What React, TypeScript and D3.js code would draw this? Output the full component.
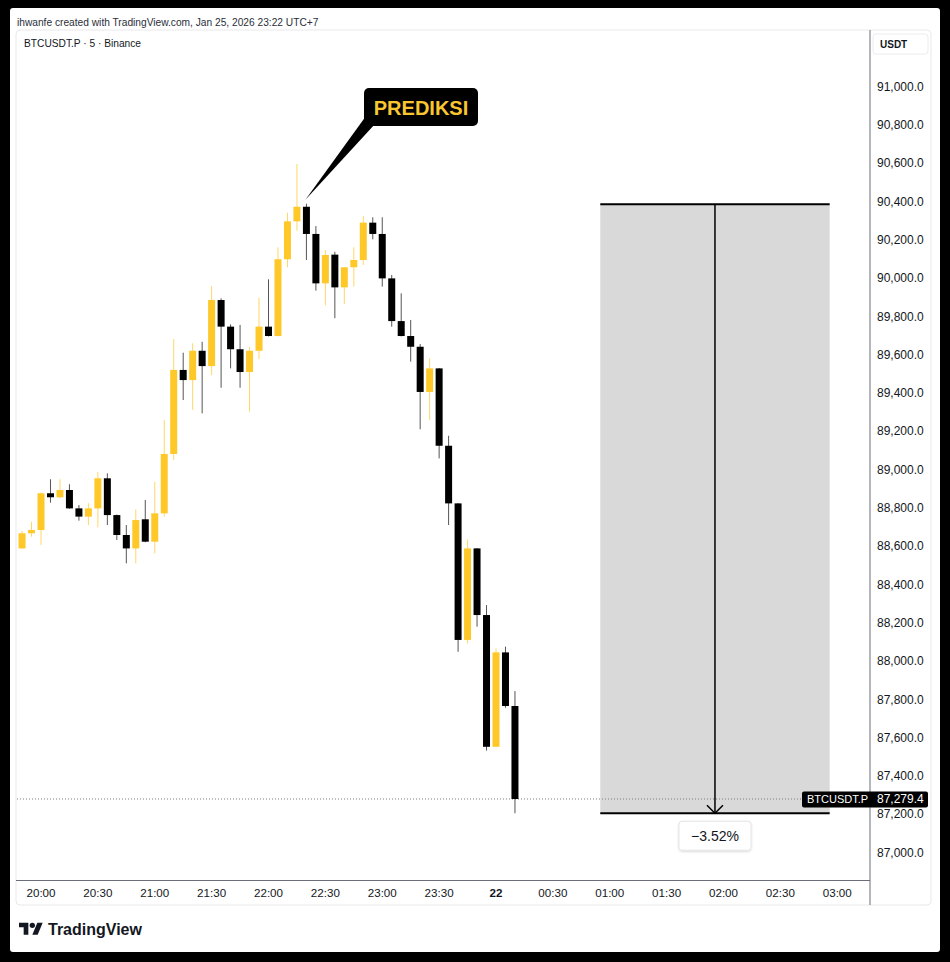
import React from 'react';
import * as d3 from 'd3';

// ---- Data (5-minute candles, index 0 = 19:50) ----
const opens = [88588, 88667, 88684, 88876, 88855, 88893, 88797, 88754, 88797, 88954, 88762, 88658, 88588, 88740, 88623, 88771, 89081, 89520, 89467, 89620, 89540, 89885, 89746, 89628, 89509, 89620, 89746, 89697, 90098, 90296, 90372, 90230, 89972, 90122, 89951, 90056, 90094, 90289, 90230, 89998, 89775, 89697, 89641, 89405, 89528, 89124, 88823, 88110, 88588, 88240, 87552, 88045, 87765];
const highs = [88680, 88727, 88880, 88949, 88949, 88923, 88814, 88824, 88988, 88980, 88765, 88710, 88792, 88841, 88936, 89258, 89681, 89610, 89659, 89667, 89958, 89894, 89758, 89755, 89641, 89897, 89993, 90160, 90341, 90595, 90388, 90271, 90146, 90137, 90058, 90160, 90324, 90317, 90317, 90016, 89920, 89781, 89655, 89581, 89530, 89176, 88825, 88635, 88590, 88292, 88066, 88075, 87843];
const lows = [88585, 88649, 88606, 88827, 88850, 88795, 88733, 88710, 88698, 88710, 88632, 88510, 88510, 88620, 88562, 88754, 89050, 89363, 89311, 89293, 89493, 89427, 89528, 89427, 89302, 89577, 89695, 89695, 90056, 90247, 90094, 89934, 89857, 89790, 89864, 89955, 90068, 90202, 89955, 89746, 89695, 89563, 89210, 89258, 89058, 88710, 88048, 88092, 88179, 87532, 87550, 87756, 87205];
const closes = [88667, 88684, 88876, 88855, 88893, 88797, 88754, 88797, 88954, 88762, 88658, 88588, 88736, 88623, 88771, 89081, 89520, 89467, 89620, 89540, 89885, 89746, 89628, 89509, 89620, 89746, 89697, 90098, 90296, 90372, 90230, 89972, 90120, 89951, 90056, 90094, 90289, 90230, 89998, 89775, 89697, 89641, 89405, 89528, 89124, 88823, 88110, 88588, 88240, 87552, 88045, 87765, 87279.4];

const timeLabels = ['20:00', '20:30', '21:00', '21:30', '22:00', '22:30', '23:00', '23:30', '22', '00:30', '01:00', '01:30', '02:00', '02:30', '03:00'];
const timeLabelIdx = [2, 8, 14, 20, 26, 32, 38, 44, 50, 56, 62, 68, 74, 80, 86];
const priceTicks = d3.range(87000, 91001, 200);

const lastPrice = 87279.4;
const measureTop = 90385;
const measureBottom = 87205;
const measureStartIdx = 61;
const measureEndIdx = 85.2;
const calloutIdx = 30;

const FONT = '"Liberation Sans", Arial, sans-serif';
const YELLOW = '#ffc829';

export default function App() {
  const x = d3.scaleLinear().domain([2, 50]).range([41, 496]);
  const y = d3.scaleLinear().domain([87000, 91000]).range([852.5, 86.5]);
  const fmt = d3.format(',.1f');
  const bodyW = 7;

  const mx0 = x(measureStartIdx);
  const mx1 = x(measureEndIdx);
  const mxc = (mx0 + mx1) / 2;
  const myTop = y(measureTop);
  const myBot = y(measureBottom);
  const pct = ((measureBottom - measureTop) / measureTop) * 100;
  const pctText = '\u2212' + Math.abs(pct).toFixed(2) + '%';

  const tipX = x(calloutIdx) - 1;
  const tipY = y(highs[calloutIdx]) - 4;
  const lastY = y(lastPrice);

  return (
    <svg width={950} height={962} style={{ position: 'absolute', left: 0, top: 0 }} fontFamily={FONT}>
      <defs>
        <clipPath id="plot">
          <rect x={17} y={31} width={853} height={849} />
        </clipPath>
        <filter id="sh" x="-20%" y="-20%" width="140%" height="160%">
          <feDropShadow dx={0} dy={1} stdDeviation={1.2} floodColor="#000" floodOpacity={0.15} />
        </filter>
      </defs>
      <rect x={0} y={0} width={950} height={962} fill="#000" />
      <rect x={10} y={8} width={930} height={944} fill="#fff" rx={3} />
      <text x={17} y={26} fontSize={10.2} fill="#2a2e39">ihwanfe created with TradingView.com, Jan 25, 2026 23:22 UTC+7</text>
      <rect x={16} y={30} width={915} height={875} fill="#fff" stroke="#e9e9ec" rx={4} />

      <g clipPath="url(#plot)">
        {/* measure box */}
        <rect x={mx0} y={myTop} width={mx1 - mx0} height={myBot - myTop} fill="#d9d9d9" />
        <line x1={mx0} x2={mx1} y1={myTop} y2={myTop} stroke="#000" strokeWidth={2} />
        <line x1={mx0} x2={mx1} y1={myBot} y2={myBot} stroke="#000" strokeWidth={2} />
        <line x1={mxc} x2={mxc} y1={myTop} y2={myBot} stroke="#000" strokeWidth={1.5} />
        <path d={`M${mxc - 8},${myBot - 8} L${mxc},${myBot} L${mxc + 8},${myBot - 8}`} fill="none" stroke="#000" strokeWidth={1.5} />

        {/* last price dotted line */}
        <line x1={17} x2={802} y1={lastY} y2={lastY} stroke="#7b7b7b" strokeWidth={1} strokeDasharray="1 2" />

        {/* candles */}
        {opens.map((o, i) => {
          const c = closes[i];
          const bull = c >= o;
          const cx = x(i);
          const top = y(Math.max(o, c));
          const bot = y(Math.min(o, c));
          return (
            <g key={i}>
              <line x1={cx} x2={cx} y1={y(highs[i])} y2={y(lows[i])} stroke={bull ? '#ffd766' : '#555'} strokeWidth={1} />
              <rect x={cx - bodyW / 2} y={top} width={bodyW} height={Math.max(1, bot - top)} fill={bull ? YELLOW : '#000'} />
            </g>
          );
        })}

        {/* callout */}
        <path d={`M${tipX},${tipY} L${366},${116} L${375},${124} Z`} fill="#000" />
        <rect x={364} y={88} width={114} height={38} rx={5} fill="#000" />
        <text x={421} y={114.5} textAnchor="middle" fontSize={20} fontWeight="bold" fill="#f9c631">PREDIKSI</text>
      </g>

      {/* percent label */}
      <rect x={mxc - 36} y={myBot + 8} width={72} height={29} rx={3} fill="#fff" stroke="#e4e4e4" filter="url(#sh)" />
      <text x={mxc} y={myBot + 27.5} textAnchor="middle" fontSize={14} fill="#131722">{pctText}</text>

      {/* axes */}
      <line x1={870} x2={870} y1={30} y2={905} stroke="#6b6e78" strokeWidth={1} />
      <line x1={16} x2={870} y1={880.5} y2={880.5} stroke="#6b6e78" strokeWidth={1} />

      <rect x={873} y={34} width={55} height={20} rx={3} fill="#fff" stroke="#ececef" />
      <text x={880} y={48} fontSize={10} fontWeight="bold" fill="#131722">USDT</text>

      {priceTicks.map((p) => (
        <text key={p} x={877} y={y(p) + 4.2} fontSize={12} fill="#131722">{fmt(p)}</text>
      ))}

      {timeLabels.map((t, k) => (
        <text key={t} x={x(timeLabelIdx[k])} y={897} textAnchor="middle" fontSize={11.6} fontWeight={t === '22' ? 'bold' : 'normal'} fill="#131722">{t}</text>
      ))}

      {/* last price label */}
      <rect x={802} y={lastY - 7.5} width={126} height={16} rx={2} fill="#000" />
      <text x={807} y={lastY + 4.2} fontSize={11} fill="#fff">BTCUSDT.P</text>
      <text x={877} y={lastY + 4.3} fontSize={12} fill="#fff">{fmt(lastPrice)}</text>

      <text x={24} y={46.5} fontSize={10.2} fill="#131722">BTCUSDT.P · 5 · Binance</text>

      {/* TradingView logo */}
      <g transform="translate(19,920) scale(0.667)" fill="#131722">
        <path d="M14 22H7V11H0V4h14v18z" />
        <circle cx={20} cy={8} r={4} />
        <path d="M28 22h-8l7.5-18h8L28 22z" />
      </g>
      <text x={48} y={935} fontSize={16} fontWeight="bold" fill="#131722">TradingView</text>
    </svg>
  );
}
